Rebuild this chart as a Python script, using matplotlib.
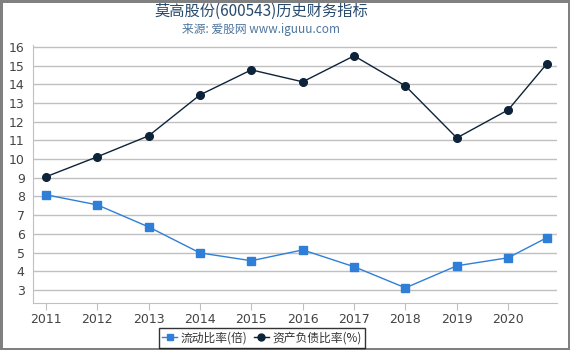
import matplotlib
matplotlib.use("Agg")
import matplotlib.pyplot as plt
from matplotlib.lines import Line2D

plt.rcParams['font.family'] = ['Noto Sans CJK SC', 'DejaVu Sans']

x_pos = [2011, 2012, 2013, 2014, 2015, 2016, 2017, 2018, 2019, 2020, 2020.75]
tick_years = [2011, 2012, 2013, 2014, 2015, 2016, 2017, 2018, 2019, 2020]
current_ratio = [8.09, 7.55, 6.37, 4.98, 4.56, 5.14, 4.24, 3.11, 4.29, 4.72, 5.79]
debt_ratio = [9.05, 10.12, 11.24, 13.43, 14.77, 14.13, 15.52, 13.91, 11.13, 12.63, 15.09]
y_ticks = list(range(3, 17))

W, H = 570, 350
fig = plt.figure(figsize=(W / 100, H / 100), dpi=100)
fig.patch.set_facecolor('white')
fig.patch.set_edgecolor('#808080')
fig.patch.set_linewidth(2.5)

ax = fig.add_axes([33 / W, 1 - 303 / H, (557 - 33) / W, (303 - 45) / H])
ax.set_xlim(2010.75, 2020.95)
ax.set_ylim(2.3, 16.1)

blue = '#2f7ed8'
dark = '#0d233a'
ax.plot(x_pos, current_ratio, color=blue, lw=1, marker='s', ms=5.5, zorder=3)
ax.plot(x_pos, debt_ratio, color=dark, lw=1, marker='o', ms=5.5, zorder=3)

ax.set_yticks(y_ticks)
ax.set_xticks(tick_years)
ax.set_xticklabels([str(y) for y in tick_years])
ax.grid(axis='y', color='#c0c0c0', lw=1)
ax.set_axisbelow(True)
for s in ['top', 'right']:
    ax.spines[s].set_visible(False)
ax.spines['left'].set_color('#c0c0c0')
ax.spines['bottom'].set_color('#c0c0c0')
ax.tick_params(axis='y', length=0, labelsize=9, colors='#444444', pad=6)
ax.tick_params(axis='x', length=5, color='#c0c0c0', labelsize=9, labelcolor='#444444', pad=2)
for lab in ax.get_xticklabels() + ax.get_yticklabels():
    lab.set_family('DejaVu Sans')

fig.text(261 / W, 1 - 11 / H, '莫高股份(600543)历史财务指标', ha='center', va='center',
         fontsize=11, color='#274b6d')
fig.text(261 / W, 1 - 29 / H, '来源: 爱股网 www.iguuu.com', ha='center', va='center',
         fontsize=8.5, color='#4d759e')

handles = [
    Line2D([], [], color=blue, lw=1, marker='s', ms=5),
    Line2D([], [], color=dark, lw=1, marker='o', ms=5),
]
leg = fig.legend(handles, ['流动比率(倍)', '资产负债比率(%)'], loc='center',
                 bbox_to_anchor=(262 / W, 1 - 338 / H), ncol=2, frameon=True,
                 fontsize=8.5, handlelength=1.3, handletextpad=0.3, columnspacing=0.5,
                 borderpad=0.3, fancybox=False, edgecolor='black')
leg.get_frame().set_linewidth(1)
for t in leg.get_texts():
    t.set_color('#333333')

fig.savefig('out.png', dpi=100, facecolor=fig.get_facecolor(), edgecolor=fig.get_edgecolor())
